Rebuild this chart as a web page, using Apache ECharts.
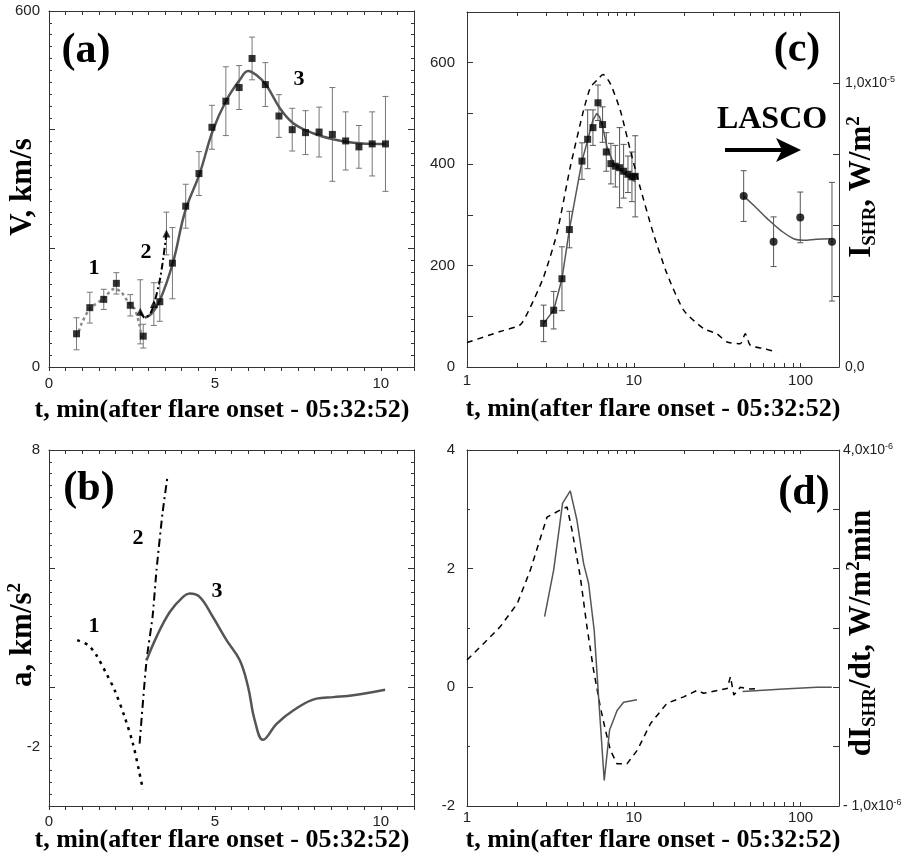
<!DOCTYPE html>
<html>
<head>
<meta charset="utf-8">
<script src="https://cdn.jsdelivr.net/npm/echarts@6.0.0/dist/echarts.min.js"></script>
<style>
  html, body { margin: 0; background: #fff; }
  #chart { width: 905px; height: 864px; }
</style>
</head>
<body>
<div id="chart"></div>
<script>
// (a) CME velocity, t in min after flare onset, V in km/s
const aSqT = [0.83, 1.23, 1.65, 2.03, 2.45, 2.84, 3.34, 3.72, 4.12, 4.52, 4.91, 5.33, 5.73, 6.12, 6.52, 6.93, 7.33, 7.73, 8.14, 8.54, 8.94, 9.34, 9.74, 10.14];
const aSqV = [56, 100, 114, 141, 104, 52, 110, 175, 271, 326, 404, 448, 471, 520, 476, 423, 400, 395, 396, 392, 381, 371, 376, 376];
const aSqErr = [27, 26, 17, 18, 18, 20, 33, 60, 37, 37, 37, 58, 37, 36, 37, 36, 36, 37, 42, 79, 49, 36, 54, 80];
const aTriT = [2.75, 3.16, 3.54];
const aTriV = [93, 106, 225];
const aTriErr = [54, 36, 36];
const aFit1T = [0.9, 0.98, 1.23, 1.63, 1.98, 2.18, 2.38, 2.58, 2.73, 2.8];
const aFit1V = [60, 73, 98, 115, 132, 126, 110, 98, 70, 45];
const aFit2T = [2.75, 2.89, 3.05, 3.16, 3.32, 3.42, 3.54];
const aFit2V = [93, 83, 90, 106, 141, 174, 225];
const aFit3T = [2.89, 3.09, 3.34, 3.74, 4.1, 4.54, 4.94, 5.35, 5.75, 6.0, 6.25, 6.55, 6.96, 7.36, 7.96, 8.56, 9.17, 9.97, 10.12];
const aFit3V = [83, 90, 112, 177, 262, 326, 399, 450, 484, 499, 492, 475, 436, 411, 394, 384, 378, 376, 376];

// (b) acceleration, km/s^2
const b1T = [0.85, 1.18, 1.43, 1.73, 1.98, 2.28, 2.53, 2.71, 2.83];
const b1A = [1.59, 1.42, 1.08, 0.46, -0.1, -1.0, -1.9, -2.8, -3.45];
const b2T = [2.73, 2.94, 3.12, 3.24, 3.42, 3.57];
const b2A = [-1.9, 0.91, 2.37, 3.95, 5.86, 7.1];
const b3T = [2.94, 3.24, 3.64, 4.04, 4.24, 4.54, 4.94, 5.35, 5.75, 6.0, 6.2, 6.45, 6.86, 7.36, 8.06, 8.57, 9.17, 10.13];
const b3A = [0.91, 1.7, 2.54, 3.05, 3.16, 3.05, 2.37, 1.59, 0.91, 0.01, -1.11, -1.77, -1.23, -0.78, -0.38, -0.33, -0.27, -0.08];

// (c) velocity on log time axis, SXR flux (right axis), LASCO points
const cT = [2.88, 3.31, 3.71, 4.11, 4.89, 5.29, 5.69, 6.10, 6.50, 6.84, 7.29, 7.75, 8.22, 8.69, 9.23, 9.75, 10.2];
const cV = [86, 112, 174, 271, 406, 449, 472, 521, 478, 424, 401, 396, 393, 386, 380, 375, 376];
const cErr = [36, 37, 63, 36, 36, 58, 35, 35, 35, 38, 40, 41, 79, 53, 36, 49, 80];
const cFitT = [2.88, 3.31, 3.71, 4.11, 4.89, 5.29, 5.69, 6.0, 6.24, 6.5, 6.91, 7.57, 8.69, 10.2];
const cFitV = [86, 112, 174, 271, 406, 447, 487, 500, 493, 474, 434, 401, 382, 365];
const sxrT = [1, 1.58, 2.09, 2.4, 2.88, 3.46, 4.16, 5.0, 5.49, 6.02, 6.54, 7.23, 8.3, 9.53, 10.9, 13.1, 15.8, 19.9, 26.2, 31.5, 36.2, 43.5, 46.6, 50, 60, 72.2];
const sxrI = [0.86e-6, 1.25e-6, 1.49e-6, 2.11e-6, 3.17e-6, 4.7e-6, 7.04e-6, 9.04e-6, 9.84e-6, 10.1e-6, 10.3e-6, 9.98e-6, 9.04e-6, 7.63e-6, 6.34e-6, 4.7e-6, 3.29e-6, 2.0e-6, 1.35e-6, 1.17e-6, 0.88e-6, 0.82e-6, 1.17e-6, 0.76e-6, 0.65e-6, 0.53e-6];
const lascoT = [45.6, 68.9, 99.6, 154.3];
const lascoV = [337, 247, 295, 247];
const lascoErr = [50, 49, 50, 117];
const lascoFitT = [45.6, 52.3, 62.9, 75.6, 90.8, 104, 125, 151];
const lascoFitV = [337, 319, 293, 270, 253, 250, 252, 253];

// (d) derivatives
const dDashT = [1, 1.26, 1.58, 2.0, 2.4, 3.02, 3.63, 3.98, 4.26, 4.78, 5.24, 5.74, 6.3, 6.76, 7.24, 7.94, 9.1, 10.5, 12.6, 15.8, 19.9, 24, 26.2, 36.3, 38, 39.8, 43.5, 50, 57];
const dDashV = [0.46, 0.74, 1.02, 1.41, 1.98, 2.87, 2.99, 3.04, 2.65, 1.86, 1.02, 0.29, -0.33, -0.72, -1.06, -1.29, -1.29, -1.06, -0.61, -0.27, -0.16, -0.05, -0.1, -0.02, 0.18, -0.13, 0.0, -0.03, -0.02];
const dSolT = [2.92, 3.31, 3.74, 4.16, 4.56, 5.0, 5.36, 5.79, 6.15, 6.65, 7.16, 7.94, 8.69, 10.45];
const dSolV = [1.19, 1.98, 3.1, 3.31, 2.82, 2.09, 1.75, 0.96, -0.16, -1.57, -0.72, -0.39, -0.25, -0.21];
const dSol2T = [44.9, 79, 125, 154];
const dSol2V = [-0.07, -0.03, 0.0, 0.0];

// ticks and tick labels
const linXLabels = [0, 5, 10];
const logTicks = [1, 2, 3, 4, 5, 6, 7, 8, 9, 10, 20, 30, 40, 50, 60, 70, 80, 90, 100];
const logXLabels = [1, 10, 100];
const aYLabels = [0, 600];
const bYLabels = [-2, 8];
const cYLabels = [0, 200, 400, 600];
const cRightLabels = [0, 1e-5];
const dRightTicks = [-1e-6, -1.6667e-7, 6.6667e-7, 1.5e-6, 2.3333e-6, 3.1667e-6, 4e-6];
const dRightLabels = [-1e-6, 4e-6];

const serif = '"Liberation Serif", "Times New Roman", serif';
const sans = '"Liberation Sans", Arial, sans-serif';
const frame = { color: '#333', width: 1 };
const tickFont = { fontFamily: sans, fontSize: 15, color: '#222' };
const xTitle = 't, min(after flare onset - 05:32:52)';

const pairs = (xs, ys) => xs.map((x, i) => [x, ys[i]]);

function curve(xi, yi, xs, ys, color, width, dash, smooth) {
  return {
    type: 'line', xAxisIndex: xi, yAxisIndex: yi, data: pairs(xs, ys),
    symbol: 'none', smooth: smooth || false, silent: true, z: 2,
    lineStyle: { color, width, type: dash || 'solid' }
  };
}

function marks(xi, yi, xs, ys, symbol, size) {
  return {
    type: 'scatter', xAxisIndex: xi, yAxisIndex: yi, data: pairs(xs, ys),
    symbol, symbolSize: size, itemStyle: { color: '#000' }, silent: true, z: 4
  };
}

function errBars(xi, yi, xs, ys, es, color) {
  return {
    type: 'custom', xAxisIndex: xi, yAxisIndex: yi, silent: true, z: 1,
    data: xs.map((x, i) => [x, ys[i] - es[i], ys[i] + es[i]]),
    encode: { x: 0, y: [1, 2] },
    renderItem: (params, api) => {
      const lo = api.coord([api.value(0), api.value(1)]);
      const hi = api.coord([api.value(0), api.value(2)]);
      const st = { stroke: color, lineWidth: 1 };
      return {
        type: 'group',
        children: [
          { type: 'line', shape: { x1: lo[0], y1: lo[1], x2: hi[0], y2: hi[1] }, style: st },
          { type: 'line', shape: { x1: lo[0] - 3, y1: lo[1], x2: lo[0] + 3, y2: lo[1] }, style: st },
          { type: 'line', shape: { x1: hi[0] - 3, y1: hi[1], x2: hi[0] + 3, y2: hi[1] }, style: st }
        ]
      };
    }
  };
}

function linX(g, pos, margin) {
  return {
    type: 'value', gridIndex: g, position: pos, min: 0, max: 11, interval: 0.5,
    axisLine: { onZero: false, lineStyle: frame },
    axisTick: { inside: pos === 'top', length: 4, lineStyle: frame },
    axisLabel: pos === 'bottom' ? { customValues: linXLabels, margin, ...tickFont } : { show: false },
    splitLine: { show: false }
  };
}

function logX(g, pos, margin) {
  return {
    type: 'log', logBase: 10, gridIndex: g, position: pos, min: 1, max: 170,
    axisLine: { onZero: false, lineStyle: frame },
    axisTick: { inside: true, length: 4, customValues: logTicks, lineStyle: frame },
    axisLabel: pos === 'bottom' ? { customValues: logXLabels, margin, ...tickFont } : { show: false },
    splitLine: { show: false }
  };
}

function valY(g, pos, min, max, interval, minorSplit, label) {
  return {
    type: 'value', gridIndex: g, position: pos, min, max, interval,
    axisLine: { onZero: false, lineStyle: frame },
    axisTick: { inside: true, length: 6, lineStyle: frame },
    minorTick: minorSplit ? { show: true, splitNumber: minorSplit, length: 3, lineStyle: frame } : { show: false },
    axisLabel: label ? Object.assign({ ...tickFont }, label) : { show: false },
    splitLine: { show: false }
  };
}

const supRich = {
  n: { fontFamily: sans, fontSize: 14, color: '#222', lineHeight: 16 },
  s: { fontFamily: sans, fontSize: 9, color: '#222', verticalAlign: 'top', lineHeight: 9 }
};

function title(x, y, text, size, rot) {
  return {
    type: 'text', x, y, rotation: rot || 0, silent: true,
    style: {
      text, fontFamily: serif, fontWeight: 'bold', fontSize: size, fill: '#000',
      align: 'center', verticalAlign: 'middle', textAlign: 'center', textVerticalAlign: 'middle'
    }
  };
}

function richTitle(x, y, text, size, rot) {
  const base = { fontFamily: serif, fontWeight: 'bold', fill: '#000', color: '#000' };
  return {
    type: 'text', x, y, rotation: rot || 0, silent: true,
    style: {
      text, align: 'center', verticalAlign: 'middle', textAlign: 'center', textVerticalAlign: 'middle',
      rich: {
        m: { ...base, fontSize: size, lineHeight: size + 4 },
        sub: { ...base, fontSize: Math.round(size * 0.62), lineHeight: Math.round(size * 0.62), verticalAlign: 'bottom' },
        sup: { ...base, fontSize: Math.round(size * 0.6), lineHeight: Math.round(size * 0.6), verticalAlign: 'top' }
      }
    }
  };
}

const option = {
  animation: false,
  backgroundColor: '#fff',
  grid: [
    { left: 49, top: 11, width: 365, height: 356 },
    { left: 49, top: 450, width: 365, height: 356 },
    { left: 467, top: 12, width: 372, height: 355 },
    { left: 467, top: 450, width: 372, height: 356 }
  ],
  xAxis: [
    linX(0, 'bottom', 9),
    linX(1, 'bottom', 8),
    logX(2, 'bottom', 6),
    logX(3, 'bottom', 4),
    linX(0, 'top'),
    linX(1, 'top'),
    logX(2, 'top'),
    logX(3, 'top')
  ],
  yAxis: [
    valY(0, 'left', 0, 600, 200, 10, { customValues: aYLabels, margin: 9 }),
    valY(1, 'left', -4, 8, 4, 10, { customValues: bYLabels, margin: 9 }),
    valY(2, 'left', 0, 700, 100, 0, { customValues: cYLabels, margin: 12 }),
    valY(3, 'left', -2, 4, 2, 2, { margin: 12 }),
    valY(0, 'right', 0, 600, 200, 10, null),
    valY(1, 'right', -4, 8, 4, 10, null),
    valY(2, 'right', 0, 1.25e-5, 2.5e-6, 0, {
      customValues: cRightLabels, margin: 6, rich: supRich,
      formatter: v => (v > 0 ? '{n|1,0x10}{s|-5}' : '{n|0,0}')
    }),
    Object.assign(valY(3, 'right', -1e-6, 4e-6, undefined, 0, {
      customValues: dRightLabels, margin: 4, rich: supRich,
      formatter: v => (v > 0 ? '{n|4,0x10}{s|-6}' : '{n|- 1,0x10}{s|-6}')
    }), { axisTick: { inside: true, length: 6, customValues: dRightTicks, lineStyle: frame } })
  ],
  series: [
    // (a)
    curve(0, 0, aFit1T, aFit1V, '#8a8a8a', 2.5, [3, 3], 0.3),
    curve(0, 0, aFit3T, aFit3V, '#555', 2.5, 'solid', 0.4),
    curve(0, 0, aFit2T, aFit2V, '#000', 2, [7, 3, 2, 3], 0.3),
    errBars(0, 0, aSqT, aSqV, aSqErr, '#777'),
    errBars(0, 0, aTriT, aTriV, aTriErr, '#777'),
    marks(0, 0, aSqT, aSqV, 'rect', 7),
    marks(0, 0, aTriT, aTriV, 'triangle', 8),
    // (b)
    curve(1, 1, b1T, b1A, '#000', 2.5, [3, 5], 0.3),
    curve(1, 1, b2T, b2A, '#000', 2, [8, 4, 2, 4], 0.2),
    curve(1, 1, b3T, b3A, '#555', 2.5, 'solid', 0.4),
    // (c)
    curve(2, 6, sxrT, sxrI, '#000', 1.5, [6, 5], 0.2),
    errBars(2, 2, cT, cV, cErr, '#555'),
    curve(2, 2, cFitT, cFitV, '#555', 1.5, 'solid', false),
    marks(2, 2, cT, cV, 'rect', 7),
    errBars(2, 2, lascoT, lascoV, lascoErr, '#555'),
    curve(2, 2, lascoFitT, lascoFitV, '#555', 1.5, 'solid', 0.4),
    marks(2, 2, lascoT, lascoV, 'circle', 8),
    // (d)
    curve(3, 3, dDashT, dDashV, '#000', 1.5, [6, 5], false),
    curve(3, 3, dSolT, dSolV, '#555', 1.5, 'solid', false),
    curve(3, 3, dSol2T, dSol2V, '#555', 1.5, 'solid', false)
  ],
  graphic: [
    title(86, 51, '(a)', 42),
    title(89, 489, '(b)', 42),
    title(797, 50, '(c)', 42),
    title(804, 493, '(d)', 42),
    title(94, 268, '1', 22),
    title(146, 252, '2', 22),
    title(299, 79, '3', 22),
    title(94, 626, '1', 22),
    title(138, 538, '2', 22),
    title(217, 591, '3', 22),
    title(772, 120, 'LASCO', 32),
    { type: 'line', silent: true, shape: { x1: 725, y1: 150, x2: 785, y2: 150 }, style: { stroke: '#000', lineWidth: 4 } },
    { type: 'polygon', silent: true, shape: { points: [[776, 138], [801, 150], [776, 162], [782, 150]] }, style: { fill: '#000' } },
    title(222, 410, xTitle, 26),
    title(222, 840, xTitle, 26),
    title(653, 409, xTitle, 26),
    title(653, 840, xTitle, 26),
    title(23, 187, 'V, km/s', 31, Math.PI / 2),
    richTitle(23, 635, '{m|a, km/s}{sup|2}', 31, Math.PI / 2),
    richTitle(862, 187, '{m|I}{sub|SHR}{m|, W/m}{sup|2}', 31, Math.PI / 2),
    richTitle(862, 633, '{m|dI}{sub|SHR}{m|/dt, W/m}{sup|2}{m|min}', 31, Math.PI / 2)
  ]
};

const chart = echarts.init(document.getElementById('chart'));
chart.setOption(option);
</script>
</body>
</html>
